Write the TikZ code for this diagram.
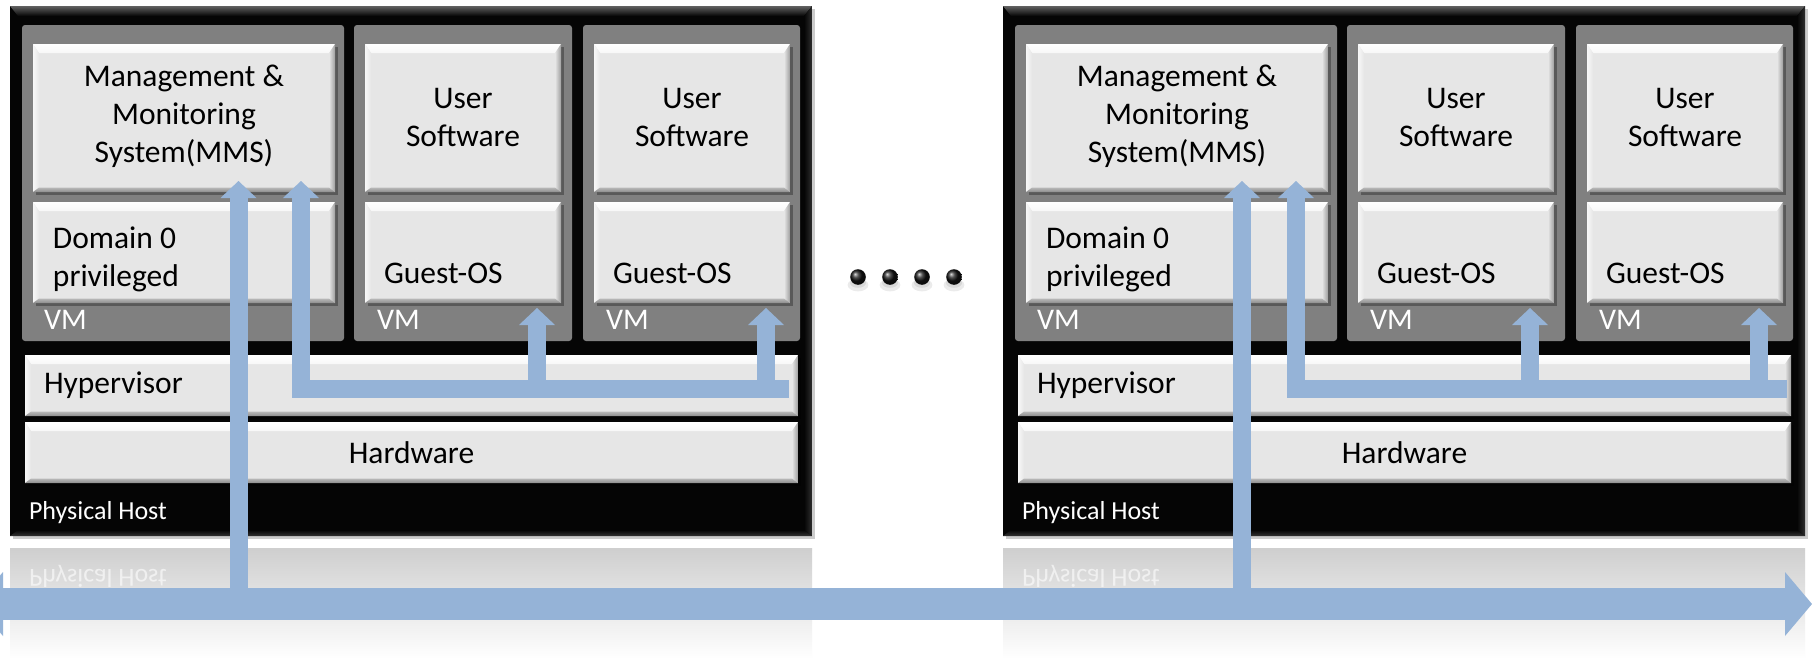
\documentclass[tikz,border=0pt]{standalone}
\usepackage{fontspec}
\setmainfont{Carlito}
\usetikzlibrary{arrows.meta,calc,fit,shadows}

\definecolor{flowblue}{HTML}{95B3D7}
\definecolor{keyface}{HTML}{E6E6E6}
\definecolor{vmgray}{HTML}{808080}
\definecolor{hostblack}{HTML}{050505}

\tikzset{
  keycap/.style={fill=keyface, draw=none, inner sep=0pt, outer sep=0pt,
    drop shadow={shadow xshift=1.3pt, shadow yshift=-1.3pt, fill=black, opacity=0.3},
    path picture={
      \coordinate (pnw) at (path picture bounding box.north west);
      \coordinate (pne) at (path picture bounding box.north east);
      \coordinate (psw) at (path picture bounding box.south west);
      \coordinate (pse) at (path picture bounding box.south east);
      \shade[top color=white, bottom color=keyface!30!white]
        (pnw) -- (pne) -- ($(pne)+(-3pt,-4.5pt)$) -- ($(pnw)+(3pt,-4.5pt)$) -- cycle;
      \shade[left color=keyface, right color=black!38]
        (pne) -- ($(pne)+(-3pt,-4.5pt)$) -- ($(pse)+(-3pt,2.2pt)$) -- (pse) -- cycle;
      \shade[left color=black!3, right color=keyface]
        (pnw) -- ($(pnw)+(3pt,-4.5pt)$) -- ($(psw)+(3pt,2.2pt)$) -- (psw) -- cycle;
      \shade[top color=black!28, bottom color=black!45]
        (psw) -- ($(psw)+(3pt,2.2pt)$) -- ($(pse)+(-3pt,2.2pt)$) -- (pse) -- cycle;
    }},
  vmbox/.style={fill=vmgray, draw=none, inner sep=0pt, outer sep=0pt, rounded corners=1.5pt},
  hostbox/.style={fill=hostblack, draw=none, inner sep=0pt, outer sep=0pt,
    drop shadow={shadow xshift=1.5pt, shadow yshift=-1.5pt, fill=black, opacity=0.2},
    path picture={
      \coordinate (pnw) at (path picture bounding box.north west);
      \coordinate (pne) at (path picture bounding box.north east);
      \coordinate (psw) at (path picture bounding box.south west);
      \coordinate (pse) at (path picture bounding box.south east);
      \shade[top color=black!62, bottom color=hostblack]
        (pnw) -- (pne) -- ($(pne)+(-4pt,-5pt)$) -- ($(pnw)+(4pt,-5pt)$) -- cycle;
      \shade[left color=hostblack, right color=black!82]
        (pne) -- ($(pne)+(-4pt,-5pt)$) -- ($(pse)+(-4pt,3pt)$) -- (pse) -- cycle;
      \shade[top color=hostblack, bottom color=black!80]
        (psw) -- ($(psw)+(4pt,3pt)$) -- ($(pse)+(-4pt,3pt)$) -- (pse) -- cycle;
    }},
  boxtext/.style={inner sep=0pt, outer sep=0pt, font=\fontsize{15.75}{19}\selectfont},
  vmlabel/.style={inner sep=0pt, outer sep=0pt, text=white, font=\fontsize{15}{18}\selectfont},
  hostlabel/.style={inner sep=0pt, outer sep=0pt, text=white, font=\fontsize{13}{15}\selectfont},
  flow/.style={draw=flowblue, line width=9pt, line join=miter, line cap=butt,
    >={Triangle[width=18pt,length=8.5pt,line width=0pt]}},
  bus/.style={draw=flowblue, line width=16pt, line cap=butt},
  dot/.style={circle, inner sep=0pt, minimum size=7.8pt, shading=ball, ball color=black!92}
}

% One physical host: #1 name prefix, #2 horizontal offset,
% #3 x of the riser to the bus, #4 x of the MMS feed riser, #5 end of the feed bar
\newcommand\hostunit[5]{%
  \def\ox{#2}%
  % mirrored floor reflection
  \shade[top color=black!19, bottom color=white] (\ox+10,548) rectangle (\ox+812,659);
  \coordinate (#1-mirrorpt) at (\ox+29,569);
  \node[hostlabel, text opacity=0.6, yscale=-1, transform shape, anchor=base west]
    (#1-hostmirror) at (#1-mirrorpt) {Physical Host};
  % host frame, VMs and layers
  \node[hostbox, fit={(\ox+10,6) (\ox+812,536)}] (#1-host) {};
  \node[vmbox, fit={(\ox+22,25) (\ox+344,341)}] (#1-vm1) {};
  \node[vmbox, fit={(\ox+354,25) (\ox+572,341)}] (#1-vm2) {};
  \node[vmbox, fit={(\ox+583,25) (\ox+800,341)}] (#1-vm3) {};
  \node[keycap, fit={(\ox+33,44) (\ox+335,192)}] (#1-mms) {};
  \node[keycap, fit={(\ox+33,202) (\ox+335,303)}] (#1-dom0) {};
  \node[keycap, fit={(\ox+365,44) (\ox+561,192)}] (#1-us2) {};
  \node[keycap, fit={(\ox+365,202) (\ox+561,303)}] (#1-os2) {};
  \node[keycap, fit={(\ox+594,44) (\ox+790,192)}] (#1-us3) {};
  \node[keycap, fit={(\ox+594,202) (\ox+790,303)}] (#1-os3) {};
  \node[keycap, fit={(\ox+25,355) (\ox+798,416)}] (#1-hyp) {};
  \node[keycap, fit={(\ox+25,422) (\ox+798,483)}] (#1-hw) {};
  % texts
  \node[boxtext, align=center] (#1-mmstext) at (\ox+184,116) {Management \&\\Monitoring\\System(MMS)};
  \node[boxtext, align=center] (#1-us2text) at (#1-us2) {User\\Software};
  \node[boxtext, align=center] (#1-us3text) at (#1-us3) {User\\Software};
  \node[boxtext, align=left, anchor=west] (#1-dom0text) at (\ox+53,259.5) {Domain 0\\privileged};
  \node[boxtext, anchor=base west] (#1-os2text) at (\ox+384,283) {Guest-OS};
  \node[boxtext, anchor=base west] (#1-os3text) at (\ox+613,283) {Guest-OS};
  \node[boxtext, anchor=west] (#1-hyptext) at (\ox+44,385.5) {Hypervisor};
  \node[boxtext] (#1-hwtext) at (#1-hw) {Hardware};
  \node[vmlabel, anchor=base west] (#1-vm1text) at (\ox+44,329) {VM};
  \node[vmlabel, anchor=base west] (#1-vm2text) at (\ox+377,329) {VM};
  \node[vmlabel, anchor=base west] (#1-vm3text) at (\ox+606,329) {VM};
  \node[hostlabel, anchor=base west] (#1-hosttext) at (\ox+29,519) {Physical Host};
  % connector end points
  \coordinate (#1-a1bot) at (\ox+#3,604);
  \coordinate (#1-a1top) at (\ox+#3,181);
  \coordinate (#1-a2top) at (\ox+#4,181);
  \coordinate (#1-a2turn) at (\ox+#4,389);
  \coordinate (#1-barend) at (\ox+#5,389);
  \coordinate (#1-b2) at (\ox+537,389);
  \coordinate (#1-b2top) at (\ox+537,308);
  \coordinate (#1-b3) at (\ox+766,389);
  \coordinate (#1-b3top) at (\ox+766,308);
}

\newcommand\hostflows[1]{%
  \draw[flow,<-] (#1-a2top) -- (#1-a2turn) -- (#1-barend);
  \draw[flow,->] (#1-b2) -- (#1-b2top);
  \draw[flow,->] (#1-b3) -- (#1-b3top);
  \draw[flow,->] (#1-a1bot) -- (#1-a1top);
}

\begin{document}
\begin{tikzpicture}[x=0.5pt, y=-0.5pt]
  \useasboundingbox (0,0) rectangle (1812,659);
  \clip (0,0) rectangle (1812,659);
  \fill[white] (0,0) rectangle (1812,659);

  \hostunit{L}{0}{238.5}{301}{789}
  \hostunit{R}{993}{249}{303}{794}

  % ellipsis between the hosts
  \foreach \x [count=\i] in {858,890,922,954} {
    \fill[black, opacity=0.08] (\x,285) ellipse (5.2pt and 3.2pt);
    \fill[black, opacity=0.08] (\x,283) ellipse (4pt and 2.4pt);
    \node[dot] (dot\i) at (\x,277) {};
  }

  % network bus
  \coordinate (busL) at (-24,604);
  \coordinate (busR) at (1812,604);
  \draw[bus, {Triangle[width=32pt,length=13.5pt,line width=0pt]}-{Triangle[width=32pt,length=13.5pt,line width=0pt]}]
    (busL) -- (busR);

  \hostflows{L}
  \hostflows{R}
\end{tikzpicture}
\end{document}
